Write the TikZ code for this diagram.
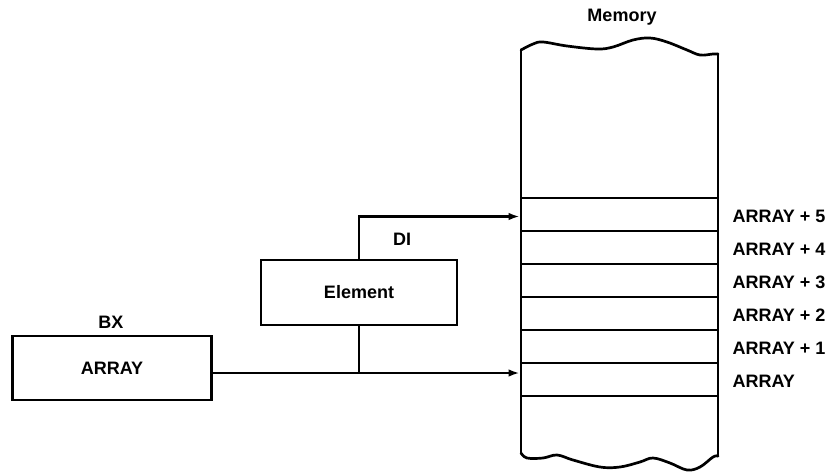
\documentclass[tikz,border=0pt]{standalone}
\usepackage{fontspec}
\setmainfont{Liberation Sans}
\usetikzlibrary{arrows.meta}
\tikzset{
  lbl/.style={font=\bfseries\fontsize{18}{20}\selectfont, inner sep=0pt},
  regbox/.style={draw, line width=2.7pt, minimum width=197pt, minimum height=64pt, inner sep=0pt, lbl},
  cell/.style={draw, line width=2.7pt, minimum width=197pt, minimum height=33pt, inner sep=0pt},
  wire/.style={line width=2.5pt},
  arr/.style={wire, -{Latex[length=11pt,width=7.5pt]}},
}
\begin{document}
\begin{tikzpicture}[x=1pt,y=-1pt]
\useasboundingbox (0,0) rectangle (832,474);

% memory column outline with torn top and bottom edges
\begin{scope}[line width=2.7pt, line cap=round, line join=round]
  \draw plot[smooth, tension=0.6] coordinates {(521,50) (533,44) (543,42) (567,46) (597,49) (613,47) (633,40) (650,38) (667,42) (687,50) (700,55) (713,54) (718,54)};
  \draw plot[smooth, tension=0.6] coordinates {(521,453) (527,458) (543,458) (557,455) (573,460) (600,467) (620,467) (640,462) (653,458) (670,463) (687,470) (700,467) (713,457) (718,456)};
  \draw (521,50) -- (521,453);
  \draw (718,54) -- (718,456);
\end{scope}
\node[lbl] (memlbl) at (622,17) {Memory};

% array cells
\node[cell] (r5) at (619.5,214.5) {};
\node[cell] (r4) at (619.5,247.5) {};
\node[cell] (r3) at (619.5,280.5) {};
\node[cell] (r2) at (619.5,313.5) {};
\node[cell] (r1) at (619.5,346.5) {};
\node[cell] (r0) at (619.5,379.5) {};

\foreach \r/\t in {r5/ARRAY + 5, r4/ARRAY + 4, r3/ARRAY + 3, r2/ARRAY + 2, r1/ARRAY + 1, r0/ARRAY}
  \node[lbl, anchor=west] (\r lbl) at ([xshift=13pt,yshift=-2pt]\r.east) {\t};

% registers
\node[regbox, minimum width=199pt] (bx) at (112,368) {ARRAY};
\node[lbl] (bxlbl) at (111,322) {BX};
\node[regbox, minimum width=196pt, minimum height=65pt] (el) at (359,292.5) {Element};
\node[lbl] (dilbl) at (402,239) {DI};

% pointers into memory
\coordinate (j) at (el.south |- 0,373);
\draw[arr] (el.north) |- ([yshift=-2pt]r5.west);
\draw[wire] (el.south) -- (j);
\draw[arr] (bx.east |- j) -- (j -| r0.west);
\end{tikzpicture}
\end{document}
